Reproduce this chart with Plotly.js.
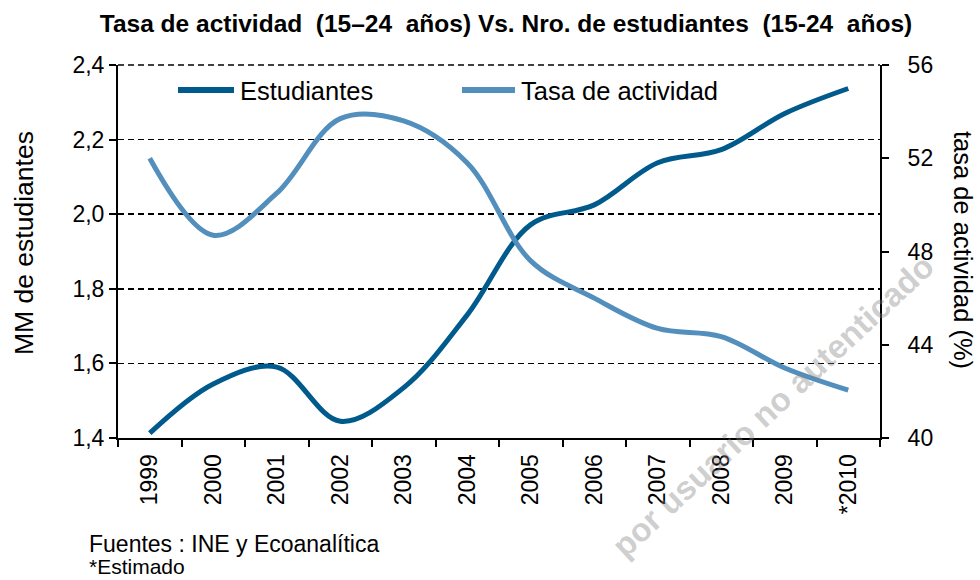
<!DOCTYPE html>
<html><head><meta charset="utf-8">
<script src="https://cdn.plot.ly/plotly-3.0.1.min.js"></script>
<style>html,body{margin:0;padding:0;background:#fff}#chart{width:980px;height:580px}</style>
</head><body><div id="chart"></div>
<script>
const years = ["1999","2000","2001","2002","2003","2004","2005","2006","2007","2008","2009","*2010"];
const estudiantes = [1.413, 1.545, 1.59, 1.445, 1.535, 1.73, 1.972, 2.025, 2.138, 2.173, 2.27, 2.337];
const tasaActividad = [52.0, 48.7, 50.5, 53.7, 53.6, 51.8, 47.6, 46.0, 44.7, 44.35, 43.0, 42.05];
const leftTicks = [1.4, 1.6, 1.8, 2.0, 2.2, 2.4];
const rightTicks = [40, 44, 48, 52, 56];
const seriesNames = ["Estudiantes", "Tasa de actividad"];
const seriesColors = ["#005a8c", "#528fbd"];

const W = 980, H = 580, L = 118, R = 100, T = 65, B = 142;
const px = x => (x - L) / (W - L - R);
const py = y => (H - B - y) / (H - T - B);
const FONT = "Liberation Sans, Arial, sans-serif";

const traces = [
  {x: years, y: estudiantes, name: seriesNames[0], type: "scatter", mode: "lines",
   line: {color: seriesColors[0], width: 5, shape: "spline", smoothing: 1}, yaxis: "y"},
  {x: years, y: tasaActividad, name: seriesNames[1], type: "scatter", mode: "lines",
   line: {color: seriesColors[1], width: 5, shape: "spline", smoothing: 1}, yaxis: "y2"}
];

// manual legend (long swatches as in reference)
const legendItems = [
  {x0: 178, x1: 234, tx: 238},
  {x0: 462, x1: 515, tx: 519}
];
const legendShapes = legendItems.map((it, i) => ({
  type: "line", xref: "paper", yref: "paper", x0: px(it.x0), x1: px(it.x1), y0: py(90), y1: py(90),
  line: {color: seriesColors[i], width: 6}
}));
const legendTexts = legendItems.map((it, i) => ({
  text: seriesNames[i], xref: "paper", yref: "paper", x: px(it.tx), y: py(91),
  xanchor: "left", yanchor: "middle", showarrow: false,
  font: {family: FONT, size: 25.5, color: "#000"}
}));

const layout = {
  width: W, height: H,
  margin: {l: L, r: R, t: T, b: B},
  paper_bgcolor: "#fff", plot_bgcolor: "#fff",
  separators: ",.",
  showlegend: false,
  title: {text: "<b>Tasa de actividad  (15–24  años) Vs. Nro. de estudiantes  (15-24  años)</b>",
          x: px(506), xref: "paper", y: 1 - 23 / H, yanchor: "middle", xanchor: "center",
          font: {family: FONT, size: 24.5, color: "#000"}},
  xaxis: {type: "category", tickson: "boundaries", ticks: "outside", ticklen: 7, tickwidth: 2,
          tickcolor: "#000", showline: true, linecolor: "#000", linewidth: 2, showgrid: false,
          tickangle: -90, tickfont: {family: FONT, size: 23, color: "#000"}, ticklabelstandoff: 5,
          range: [-0.5, 11.5], fixedrange: true},
  yaxis: {range: [1.4, 2.4], tickvals: leftTicks, tickformat: ".1f", ticks: "outside", ticklen: 7,
          tickwidth: 2, tickcolor: "#000", showline: true, linecolor: "#000", linewidth: 2,
          showgrid: true, gridcolor: "#000", gridwidth: 1.5, griddash: "6px,4px", zeroline: false,
          tickfont: {family: FONT, size: 23, color: "#000"}},
  yaxis2: {overlaying: "y", side: "right", range: [40, 56], tickvals: rightTicks, ticks: "outside",
           ticklen: 7, tickwidth: 2, tickcolor: "#000", showline: true, linecolor: "#000", linewidth: 2,
           showgrid: false, zeroline: false, ticklabelstandoff: 14,
           tickfont: {family: FONT, size: 23, color: "#000"}},
  shapes: [
    {type: "line", xref: "paper", yref: "paper", x0: 0, x1: 1, y0: 1, y1: 1,
     line: {color: "#000", width: 1.5, dash: "6px,4px"}}
  ].concat(legendShapes),
  annotations: [
    {text: "MM de estudiantes", xref: "paper", yref: "paper", x: px(24), y: py(243),
     xanchor: "center", yanchor: "middle",
     textangle: -90, showarrow: false, font: {family: FONT, size: 26.5, color: "#000"}},
    {text: "tasa de actividad (%)", xref: "paper", yref: "paper", x: px(963), y: py(250),
     xanchor: "center", yanchor: "middle",
     textangle: 90, showarrow: false, font: {family: FONT, size: 25.5, color: "#000"}},
    {text: "Fuentes : INE y Ecoanalítica", xref: "paper", yref: "paper", x: px(87), y: py(544),
     xanchor: "left", yanchor: "middle", showarrow: false, font: {family: FONT, size: 23, color: "#000"}},
    {text: "*Estimado", xref: "paper", yref: "paper", x: px(87), y: py(566),
     xanchor: "left", yanchor: "middle", showarrow: false, font: {family: FONT, size: 21, color: "#000"}},
    {text: "<b>por usuario no autenticado</b>", xref: "paper", yref: "paper", x: px(772), y: py(406),
     xanchor: "center", yanchor: "middle",
     textangle: -43, showarrow: false, font: {family: FONT, size: 33, color: "rgba(128,128,128,0.4)"}}
  ].concat(legendTexts)
};

Plotly.newPlot("chart", traces, layout, {displayModeBar: false, staticPlot: true});
</script></body></html>
